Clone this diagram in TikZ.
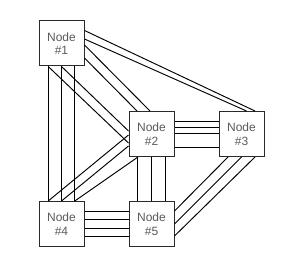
\documentclass[tikz,border=0pt]{standalone}
\usepackage{fontspec}
\setmainfont{Liberation Sans}
\definecolor{txtgray}{HTML}{5A5A5A}
\definecolor{boxline}{HTML}{2A2A2A}
\begin{document}
\begin{tikzpicture}[x=1pt,y=1pt,
  nodebox/.style={draw=boxline, line width=1pt, fill=white, minimum width=45pt, minimum height=45pt,
    inner sep=0pt, align=center, text=txtgray, font=\fontsize{12}{13.5}\selectfont},
  link/.style={line width=0.95pt, black}]
\useasboundingbox (0,0) rectangle (294,270);
\node[nodebox] (n1) at (61.5,226.5) {Node\\\#1};
\node[nodebox] (n2) at (151.5,136) {Node\\\#2};
\node[nodebox] (n3) at (241.5,136) {Node\\\#3};
\node[nodebox] (n4) at (61.5,46) {Node\\\#4};
\node[nodebox] (n5) at (151.5,46) {Node\\\#5};
% N1 - N4
\foreach \s in {-13.3,0,13.3}
  \draw[link] ([xshift=\s]n1.south) -- ([xshift=\s]n4.north);
% N1 - N2 (from bottom)
\draw[link] ([xshift=-13.3]n1.south) -- ([yshift=-9]n2.west);
\draw[link] ([xshift=0]n1.south) -- ([yshift=3]n2.west);
% N1 - N2 (from right)
\draw[link] ([yshift=-1.5]n1.east) -- ([xshift=-1.5]n2.north);
\draw[link] ([yshift=-14.5]n1.east) -- ([xshift=-14.5]n2.north);
% N1 - N3
\draw[link] ([yshift=13]n1.east) -- ([xshift=13.5]n3.north);
\draw[link] ([yshift=4.5]n1.east) -- ([xshift=5]n3.north);
% N4 - N2
\draw[link] ([xshift=-13.3]n4.north) -- ([yshift=-1]n2.west);
\draw[link] ([xshift=0]n4.north) -- ([yshift=-12]n2.west);
\draw[link] ([xshift=13.3]n4.north) -- ([xshift=-13.5]n2.south);
% N2 - N3
\foreach \s in {13,6.5,1,-13}
  \draw[link] ([yshift=\s]n2.east) -- ([yshift=\s]n3.west);
% N2 - N5
\foreach \s in {-14,0,14}
  \draw[link] ([xshift=\s]n2.south) -- ([xshift=\s]n5.north);
% N4 - N5
\foreach \s in {12.75,4.25,-4.25,-12.75}
  \draw[link] ([yshift=\s]n4.east) -- ([yshift=\s]n5.west);
% N3 - N5
\draw[link] ([xshift=-13.5]n3.south) -- ([yshift=13]n5.east);
\draw[link] ([xshift=0]n3.south) -- ([yshift=0]n5.east);
\draw[link] ([xshift=13.5]n3.south) -- ([yshift=-12]n5.east);
\end{tikzpicture}
\end{document}
